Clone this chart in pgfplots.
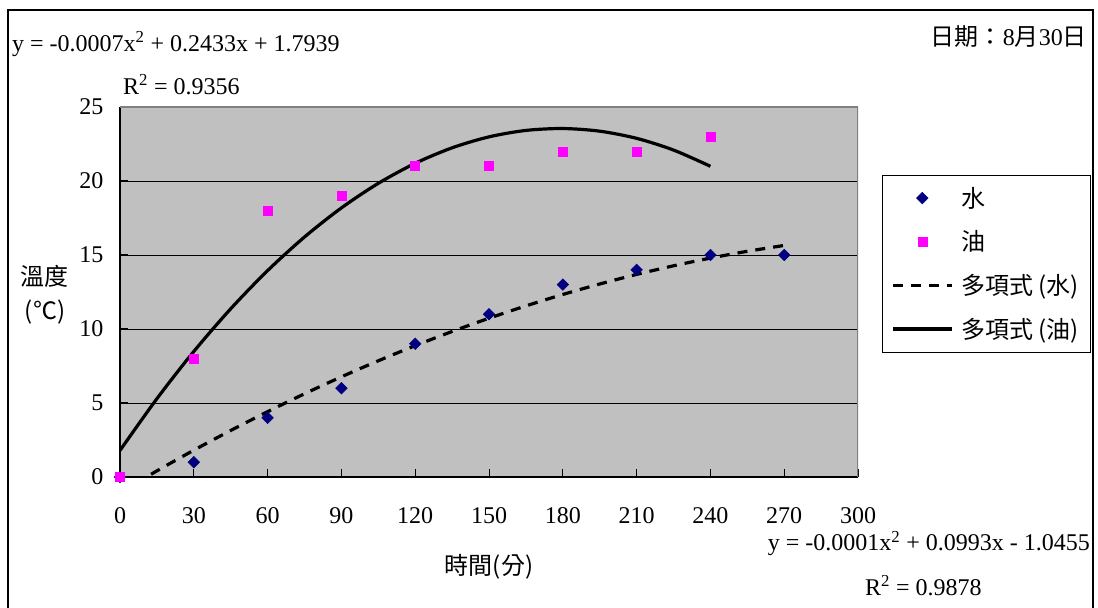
\documentclass[border=0pt]{standalone}
\usepackage{pgfplots}
\pgfplotsset{compat=1.18}
\usepackage{fontspec}
\setmainfont{Liberation Serif}
\newfontfamily\cjk{Noto Sans CJK TC}
\definecolor{plotgray}{HTML}{C0C0C0}
\definecolor{navyc}{HTML}{000080}
\definecolor{magc}{HTML}{FF00FF}
\definecolor{bordgray}{HTML}{808080}
\newcommand{\fs}{\fontsize{24bp}{28bp}\selectfont}
\newcommand{\cfs}{\cjk\fontsize{24bp}{28bp}\selectfont}
\pgfplotsset{
  lgline/.style={legend image code/.code={\draw[##1] (0bp,0bp) -- (59bp,0bp);}},
  lgmark/.style={legend image code/.code={\draw[mark repeat=2,mark phase=2,##1] plot coordinates {(0bp,0bp) (29.5bp,0bp) (59bp,0bp)};}},
}
\begin{document}
\begin{tikzpicture}
\useasboundingbox (0,0) rectangle (1098bp,608bp);
\fill[white] (0,0) rectangle (1098bp,608bp);
\draw[line width=1.3bp] (8bp,-2bp) -- (8bp,598bp) -- (1093bp,598bp) -- (1093bp,-2bp);
\begin{axis}[
  at={(120bp,131bp)}, anchor=south west,
  width=738bp, height=370bp, scale only axis,
  xmin=0, xmax=300, ymin=0, ymax=25,
  xtick={0,30,...,300}, ytick={0,5,...,25},
  axis background/.style={fill=plotgray},
  axis x line*=bottom, axis y line*=left,
  axis line style={line width=1.3bp, black},
  tick align=inside, major tick length=8bp,
  tick style={black, line width=1bp},
  ymajorgrids, grid style={black, line width=0.8bp},
  ticklabel style={font=\fs},
  /pgf/number format/assume math mode=true,
  xticklabel style={yshift=-27bp},
  yticklabel style={xshift=-13bp},
  legend style={at={(1.0325,0.816)}, anchor=north west, draw=black,
    fill=white, font=\cfs, inner xsep=9bp, inner ysep=10bp, row sep=18bp,
    /tikz/every odd column/.append style={column sep=6bp}},
  legend cell align=left,
]
\addplot[only marks, lgmark, mark=square*, mark size=4.1bp,
  mark options={rotate=45, fill=navyc, draw=navyc, line width=0.5bp}]
  coordinates {(0,0) (30,1) (60,4) (90,6) (120,9) (150,11) (180,13) (210,14) (240,15) (270,15)};
\addlegendentry{水}
\addplot[only marks, lgmark, mark=square*, mark size=4.5bp,
  mark options={fill=magc, draw=magc, line width=0.5bp}]
  coordinates {(0,0) (30,8) (60,18) (90,19) (120,21) (150,21) (180,22) (210,22) (240,23)};
\addlegendentry{油}
\addplot[lgline, black, line width=3.2bp, dash pattern=on 10bp off 8bp, smooth, mark=none]
  coordinates {(0,-1.0455) (15,0.4130) (30,1.8091) (45,3.1426) (60,4.4136) (75,5.6221)
  (90,6.7682) (105,7.8517) (120,8.8727) (135,9.8313) (150,10.7273) (165,11.5607)
  (180,12.3318) (195,13.0403) (210,13.6864) (225,14.2699) (240,14.7909) (255,15.2494) (270,15.6455)};
\addlegendentry{多項式 (水)}
\addplot[lgline, black, line width=3.2bp, smooth, mark=none]
  coordinates {(0,1.7939) (15,5.2910) (30,8.4818) (45,11.3663) (60,13.9446) (75,16.2165)
  (90,18.1822) (105,19.8416) (120,21.1948) (135,22.2416) (150,22.9822) (165,23.4165)
  (180,23.5446) (195,23.3663) (210,22.8818) (225,22.0909) (240,20.9939)};
\addlegendentry{多項式 (油)}
\draw[bordgray, line width=1.3bp] (rel axis cs:0,1) -- (rel axis cs:1,1) -- (rel axis cs:1,0);
\end{axis}
\node[anchor=base west, font=\fs, inner sep=0] at (12bp,556bp) {y = -0.0007x\textsuperscript{2} + 0.2433x + 1.7939};
\node[anchor=base west, font=\fs, inner sep=0] at (123bp,513bp) {R\textsuperscript{2} = 0.9356};
\node[anchor=base east, font=\fs, inner sep=0] at (1087bp,562bp) {{\cfs 日期：}8{\cfs 月}30{\cfs 日}};
\node[anchor=base east, font=\fs, inner sep=0] at (1090bp,57bp) {y = -0.0001x\textsuperscript{2} + 0.0993x - 1.0455};
\node[anchor=base west, font=\fs, inner sep=0] at (865bp,13bp) {R\textsuperscript{2} = 0.9878};
\node[anchor=center, font=\cfs, inner sep=0] at (489bp,41bp) {時間(分)};
\node[anchor=center, font=\cfs, inner sep=0] at (44bp,332bp) {溫度};
\node[anchor=center, font=\cfs, inner sep=0] at (45bp,296bp) {(℃)};
\end{tikzpicture}
\end{document}
